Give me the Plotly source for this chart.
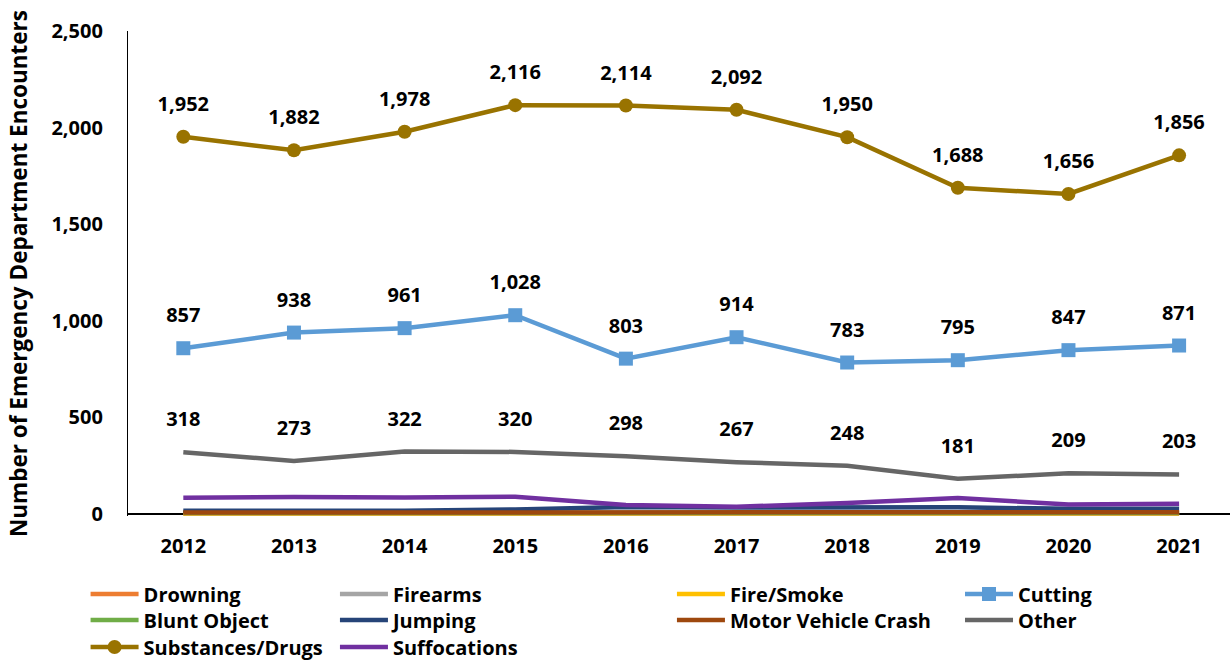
import plotly.graph_objects as go

years = ["2012", "2013", "2014", "2015", "2016", "2017", "2018", "2019", "2020", "2021"]

drowning = [1, 1, 1, 1, 2, 1, 1, 1, 1, 1]
firearms = [5, 5, 6, 5, 5, 5, 5, 5, 5, 5]
fire_smoke = [2, 2, 2, 2, 3, 2, 2, 2, 2, 2]
cutting = [857, 938, 961, 1028, 803, 914, 783, 795, 847, 871]
blunt_object = [3, 3, 4, 4, 4, 3, 3, 4, 3, 3]
jumping = [15, 16, 15, 22, 35, 32, 35, 33, 25, 25]
motor_vehicle = [6, 6, 7, 8, 10, 9, 8, 9, 8, 8]
other = [318, 273, 322, 320, 298, 267, 248, 181, 209, 203]
substances = [1952, 1882, 1978, 2116, 2114, 2092, 1950, 1688, 1656, 1856]
suffocations = [82, 86, 84, 88, 45, 36, 55, 81, 48, 52]

FONT = "'Open Sans', Lato, sans-serif"
FS = 20
LW = 4.5

def bold(size=FS):
    return dict(family=FONT, size=size, color="#000000", weight="bold")

# legend grid: column x (paper), row y (paper)
COLS = [-0.0385, 0.1878, 0.4936, 0.755]
ROWS = [-0.1608, -0.2144, -0.2701]

series = [
    ("Drowning", drowning, "#ED7D31", None),
    ("Firearms", firearms, "#A5A5A5", None),
    ("Fire/Smoke", fire_smoke, "#FFC000", None),
    ("Cutting", cutting, "#5B9BD5", "square"),
    ("Blunt Object", blunt_object, "#70AD47", None),
    ("Jumping", jumping, "#264478", None),
    ("Motor Vehicle Crash", motor_vehicle, "#9E480E", None),
    ("Other", other, "#666666", None),
    ("Substances/Drugs", substances, "#997300", "circle"),
    ("Suffocations", suffocations, "#7030A0", None),
]

fig = go.Figure()
legends = {}
for i, (name, vals, color, sym) in enumerate(series):
    leg = "legend" if i == 0 else f"legend{i + 1}"
    legends[leg] = dict(
        x=COLS[i % 4], y=ROWS[i // 4], xanchor="left", yanchor="middle",
        orientation="v", font=bold(), bgcolor="rgba(0,0,0,0)",
        itemwidth=48, borderwidth=0,
    )
    kw = dict(x=years, y=vals, name=name, legend=leg,
              line=dict(color=color, width=LW), hoverinfo="x+y+name")
    if sym:
        fig.add_trace(go.Scatter(mode="lines+markers",
                                 marker=dict(symbol=sym, size=14, color=color), **kw))
    else:
        fig.add_trace(go.Scatter(mode="lines", **kw))

# data labels
for vals in [substances, cutting, other]:
    fig.add_trace(go.Scatter(
        x=years, y=vals, mode="markers+text", text=[f"{v:,}" for v in vals],
        textposition="top center", textfont=bold(),
        marker=dict(size=32, color="rgba(0,0,0,0)"),
        showlegend=False, hoverinfo="skip", cliponaxis=False,
    ))

fig.update_layout(
    width=1230, height=661,
    margin=dict(l=128, r=0, t=31, b=145, autoexpand=False),
    paper_bgcolor="white", plot_bgcolor="white",
    font=bold(),
    showlegend=True,
    xaxis=dict(
        type="category", range=[-0.5, 9.46], showline=False, showgrid=False,
        ticks="", tickfont=bold(), ticklabelstandoff=16, automargin=False,
    ),
    yaxis=dict(
        range=[-12, 2500], tickvals=[0, 500, 1000, 1500, 2000, 2500], tickformat=",",
        showline=True, linecolor="#000000", linewidth=1.2, showgrid=False,
        zeroline=True, zerolinecolor="#000000", zerolinewidth=1.5,
        ticks="", tickfont=bold(), ticklabelstandoff=20, automargin=False,
        title=dict(text="Number of Emergency Department Encounters", standoff=17,
                   font=bold(22.5)),
    ),
    **legends,
)

fig.write_html(
    "out.html",
    config={"displayModeBar": False},
    post_script="document.body.style.margin='0';document.body.style.overflow='hidden';",
)
